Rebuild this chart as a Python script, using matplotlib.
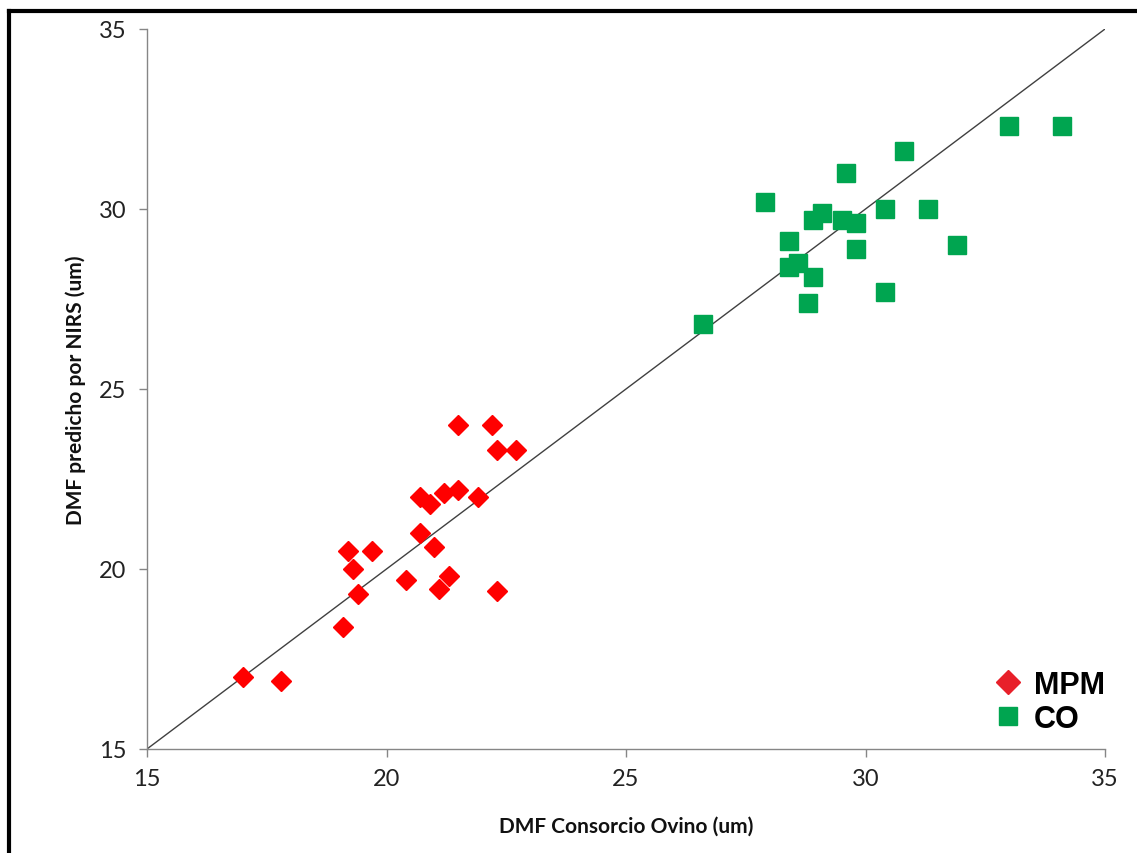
import matplotlib
matplotlib.use("Agg")
import matplotlib.pyplot as plt
from matplotlib.lines import Line2D

# Data
mpm_x = [17.0, 17.8, 19.1, 19.4, 19.3, 19.2, 19.7, 20.4, 20.7, 21.0, 20.7, 20.9,
         21.2, 21.5, 21.9, 21.1, 21.3, 22.3, 21.5, 22.2, 22.3, 22.7]
mpm_y = [17.0, 16.9, 18.4, 19.3, 20.0, 20.5, 20.5, 19.7, 21.0, 20.6, 22.0, 21.8,
         22.1, 22.2, 22.0, 19.45, 19.8, 19.4, 24.0, 24.0, 23.3, 23.3]
co_x = [33.0, 34.1, 30.8, 29.6, 27.9, 29.1, 28.9, 29.5, 29.8, 30.4, 31.3, 28.4,
        29.8, 31.9, 28.6, 28.4, 28.9, 30.4, 28.8, 26.6]
co_y = [32.3, 32.3, 31.6, 31.0, 30.2, 29.9, 29.7, 29.7, 29.6, 30.0, 30.0, 29.1,
        28.9, 29.0, 28.5, 28.4, 28.1, 27.7, 27.4, 26.8]
ref_line = [15, 35]
ticks = [15, 20, 25, 30, 35]
series_labels = ["MPM", "CO"]
x_label = "DMF Consorcio Ovino (um)"
y_label = "DMF predicho por NIRS (um)"

fig = plt.figure(figsize=(11.37, 8.54), dpi=100)
ax = fig.add_axes([0.1293, 0.1218, 0.8426, 0.8431])

red = "#FF0000"
green = "#00A550"
grey = "#868686"

ax.plot(ref_line, ref_line, color="#404040", lw=1.0, zorder=1)
ax.plot(mpm_x, mpm_y, linestyle="none", marker="D", ms=10.5, color=red,
        mec=red, zorder=3)
ax.plot(co_x, co_y, linestyle="none", marker="s", ms=13.5, color=green,
        mec=green, zorder=3)

ax.set_xlim(15, 35)
ax.set_ylim(15, 35)
ax.set_xticks(ticks)
ax.set_yticks(ticks)
ax.set_xticklabels([str(t) for t in ticks])
ax.set_yticklabels([str(t) for t in ticks])

for s in ["top", "right"]:
    ax.spines[s].set_visible(False)
for s in ["left", "bottom"]:
    ax.spines[s].set_color(grey)
    ax.spines[s].set_linewidth(1.0)

ax.tick_params(axis="both", direction="out", length=6, width=1.0, color=grey,
               labelsize=17, labelcolor="#222222")
ax.tick_params(axis="y", pad=9)
ax.tick_params(axis="x", pad=8)
for lab in ax.get_xticklabels() + ax.get_yticklabels():
    lab.set_family("Lato")

ax.set_xlabel(x_label, family="Lato", fontweight="bold", fontsize=15,
              labelpad=19, color="#111111")
ax.set_ylabel(y_label, family="Lato", fontweight="bold", fontsize=15,
              labelpad=9, color="#111111")

handles = [
    Line2D([], [], linestyle="none", marker="D", ms=12, color="#E8202A"),
    Line2D([], [], linestyle="none", marker="s", ms=13, color=green),
]
leg = ax.legend(handles, series_labels, loc="lower left",
                bbox_to_anchor=(0.867, 0.0), frameon=False,
                prop={"family": "Liberation Sans", "weight": "bold", "size": 22},
                handlelength=1.0, handletextpad=0.35, labelspacing=0.12,
                borderpad=0.0)

# Outer black frame (top and left)
fig.add_artist(Line2D([0.0075, 1.0], [0.9865, 0.9865], color="black", lw=3,
                      transform=fig.transFigure))
fig.add_artist(Line2D([0.0075, 0.0075], [0.0, 0.9865], color="black", lw=3,
                      transform=fig.transFigure))

fig.savefig("out.png", dpi=100)
